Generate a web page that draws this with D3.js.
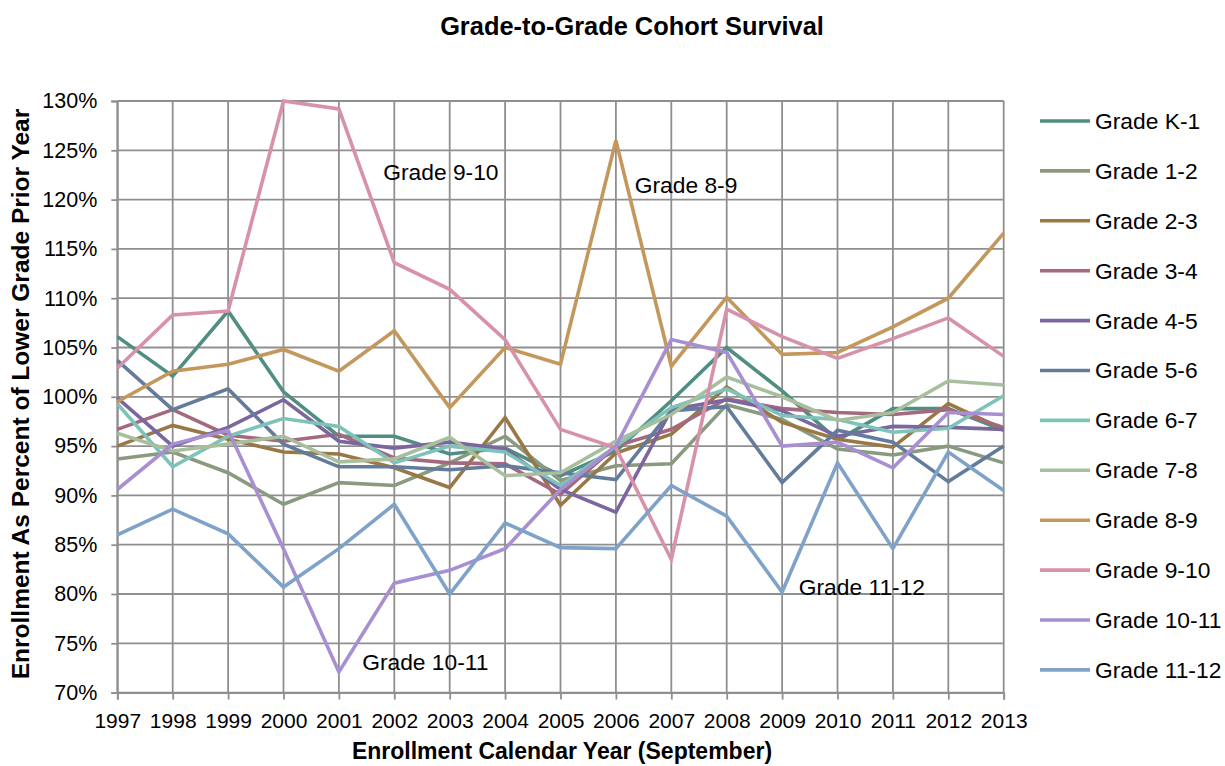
<!DOCTYPE html>
<html>
<head>
<meta charset="utf-8">
<script src="https://cdn.jsdelivr.net/npm/d3@7"></script>
<style>
  html, body { margin: 0; padding: 0; background: #fff; }
  svg text { font-family: "Liberation Sans", Arial, sans-serif; fill: #000; }
</style>
</head>
<body>
<svg id="chart" width="1225" height="766"></svg>
<script>
// Enrollment years (September)
const years = [1997, 1998, 1999, 2000, 2001, 2002, 2003, 2004, 2005, 2006, 2007, 2008, 2009, 2010, 2011, 2012, 2013];

// Grade-to-grade survival, percent of the lower grade one year earlier
const gradeK1   = [106.1, 102.1, 108.7, 100.5, 96.0, 96.0, 94.2, 94.8, 92.0, 94.5, 99.6, 105.0, 100.6, 95.6, 98.8, 98.8, 96.6];
const grade1_2  = [93.7, 94.4, 92.3, 89.1, 91.3, 91.0, 93.3, 96.0, 91.5, 93.0, 93.2, 99.2, 97.7, 94.7, 94.1, 95.0, 93.3];
const grade2_3  = [95.0, 97.1, 95.7, 94.4, 94.2, 92.8, 90.8, 97.9, 89.0, 94.3, 96.2, 101.0, 97.4, 95.7, 94.9, 99.3, 96.7];
const grade3_4  = [96.7, 98.7, 96.1, 95.5, 96.2, 93.8, 93.3, 93.2, 90.1, 95.0, 96.7, 99.8, 98.8, 98.4, 98.2, 98.7, 96.9];
const grade4_5  = [99.9, 95.0, 96.9, 99.7, 95.5, 94.8, 95.4, 94.7, 90.6, 88.3, 98.7, 99.7, 98.6, 96.0, 97.0, 96.9, 96.7];
const grade5_6  = [103.7, 98.7, 100.8, 95.2, 92.9, 92.9, 92.6, 93.0, 92.3, 91.6, 98.6, 99.0, 91.3, 96.6, 95.4, 91.4, 95.0];
const grade6_7  = [99.3, 92.9, 96.0, 97.8, 97.0, 93.3, 95.0, 94.4, 91.0, 95.0, 98.9, 100.8, 98.1, 97.7, 96.4, 96.8, 100.1];
const grade7_8  = [96.3, 94.5, 95.2, 96.0, 93.4, 93.7, 95.9, 92.0, 92.3, 95.5, 98.2, 102.0, 100.0, 97.6, 98.4, 101.6, 101.2];
const grade8_9  = [99.5, 102.6, 103.3, 104.8, 102.6, 106.7, 98.9, 105.0, 103.3, 126.0, 103.1, 110.1, 104.3, 104.5, 107.1, 110.0, 116.6];
const grade9_10 = [102.9, 108.3, 108.7, 130.0, 129.2, 113.6, 110.9, 105.8, 96.7, 94.8, 83.5, 108.9, 106.1, 103.9, 105.9, 108.0, 104.1];
const grade10_11 = [90.6, 95.2, 96.6, 84.6, 72.1, 81.1, 82.4, 84.6, 90.6, 95.0, 105.8, 104.5, 95.0, 95.4, 92.8, 98.4, 98.2];
const grade11_12 = [86.0, 88.6, 86.1, 80.7, 84.6, 89.1, 80.0, 87.2, 84.7, 84.6, 91.0, 87.9, 80.2, 93.3, 84.6, 94.4, 90.5];

const seriesNames = ["Grade K-1", "Grade 1-2", "Grade 2-3", "Grade 3-4", "Grade 4-5", "Grade 5-6",
                     "Grade 6-7", "Grade 7-8", "Grade 8-9", "Grade 9-10", "Grade 10-11", "Grade 11-12"];
const seriesValues = [gradeK1, grade1_2, grade2_3, grade3_4, grade4_5, grade5_6,
                      grade6_7, grade7_8, grade8_9, grade9_10, grade10_11, grade11_12];
const seriesColors = ["#4f8e80", "#8a9a7e", "#997846", "#a5697f", "#7b66a0", "#637c9c",
                      "#7ec3b9", "#a7bf9c", "#c4975c", "#d791ab", "#a78fd1", "#7fa2c9"];

// Y axis ticks (percent)
const yTicks = [70, 75, 80, 85, 90, 95, 100, 105, 110, 115, 120, 125, 130];

// In-plot callouts anchored in data units (year, percent)
const callouts = [
  { text: "Grade 9-10",  year: 2001.8,  value: 122.0 },
  { text: "Grade 8-9",   year: 2006.34, value: 120.7 },
  { text: "Grade 10-11", year: 2001.42, value: 72.25 },
  { text: "Grade 11-12", year: 2009.3,  value: 79.85 }
];

const svg = d3.select("#chart");
const plot = { left: 117.3, right: 1003.7, top: 101, bottom: 692.6 };

const x = d3.scaleLinear().domain([1997, 2013]).range([plot.left, plot.right]);
const y = d3.scaleLinear().domain([70, 130]).range([plot.bottom, plot.top]);

const gridColor = "#8f8f8f";
const labelFont = "'Liberation Sans', Arial, sans-serif";

// Horizontal gridlines
svg.append("g")
  .selectAll("line")
  .data(yTicks)
  .join("line")
  .attr("x1", plot.left).attr("x2", plot.right)
  .attr("y1", d => y(d)).attr("y2", d => y(d))
  .attr("stroke", gridColor).attr("stroke-width", 1.8);

// Vertical gridlines
svg.append("g")
  .selectAll("line")
  .data(years)
  .join("line")
  .attr("x1", d => x(d)).attr("x2", d => x(d))
  .attr("y1", plot.top).attr("y2", plot.bottom)
  .attr("stroke", gridColor).attr("stroke-width", 1.8);

// Y axis
const yAxis = svg.append("g")
  .attr("transform", `translate(${plot.left},0)`)
  .call(d3.axisLeft(y).tickValues(yTicks).tickSize(6).tickPadding(14).tickFormat(d => d + "%"));
yAxis.select(".domain").attr("stroke", gridColor).attr("stroke-width", 1.8);
yAxis.selectAll(".tick line").attr("stroke", gridColor).attr("stroke-width", 1.8);
yAxis.selectAll(".tick text").attr("font-size", "21.5px").attr("fill", "#000")
  .attr("font-family", labelFont);

// X axis
const xAxis = svg.append("g")
  .attr("transform", `translate(0,${plot.bottom})`)
  .call(d3.axisBottom(x).tickValues(years).tickSize(7).tickPadding(13).tickFormat(d3.format("d")));
xAxis.select(".domain").attr("stroke", gridColor).attr("stroke-width", 1.8);
xAxis.selectAll(".tick line").attr("stroke", gridColor).attr("stroke-width", 1.8);
xAxis.selectAll(".tick text").attr("font-size", "21px").attr("fill", "#000")
  .attr("font-family", labelFont);

// Series lines
const line = d3.line().x((d, i) => x(years[i])).y(d => y(d));
svg.append("g")
  .selectAll("path")
  .data(seriesValues)
  .join("path")
  .attr("d", d => line(d))
  .attr("fill", "none")
  .attr("stroke", (d, i) => seriesColors[i])
  .attr("stroke-width", 3.6)
  .attr("stroke-linejoin", "miter");

// Callout labels
svg.append("g")
  .selectAll("text")
  .data(callouts)
  .join("text")
  .attr("x", d => x(d.year))
  .attr("y", d => y(d.value))
  .attr("font-size", "22.8px")
  .text(d => d.text);

// Legend
const legend = svg.append("g").attr("transform", "translate(1040,121)");
const rows = legend.selectAll("g")
  .data(seriesNames)
  .join("g")
  .attr("transform", (d, i) => `translate(0,${i * 49.9})`);
rows.append("line")
  .attr("x1", 0).attr("x2", 50).attr("y1", 0).attr("y2", 0)
  .attr("stroke", (d, i) => seriesColors[i]).attr("stroke-width", 3.6);
rows.append("text")
  .attr("x", 55).attr("y", 0).attr("dy", "0.35em")
  .attr("font-size", "22.8px")
  .text(d => d);

// Titles
svg.append("text")
  .attr("x", 632).attr("y", 35)
  .attr("text-anchor", "middle")
  .attr("font-size", "25.4px").attr("font-weight", "bold")
  .text("Grade-to-Grade Cohort Survival");

svg.append("text")
  .attr("x", 562).attr("y", 759)
  .attr("text-anchor", "middle")
  .attr("font-size", "23px").attr("font-weight", "bold")
  .text("Enrollment Calendar Year (September)");

svg.append("text")
  .attr("transform", "translate(29,394) rotate(-90)")
  .attr("text-anchor", "middle")
  .attr("font-size", "24.5px").attr("font-weight", "bold")
  .text("Enrollment As Percent of Lower Grade Prior Year");
</script>
</body>
</html>
